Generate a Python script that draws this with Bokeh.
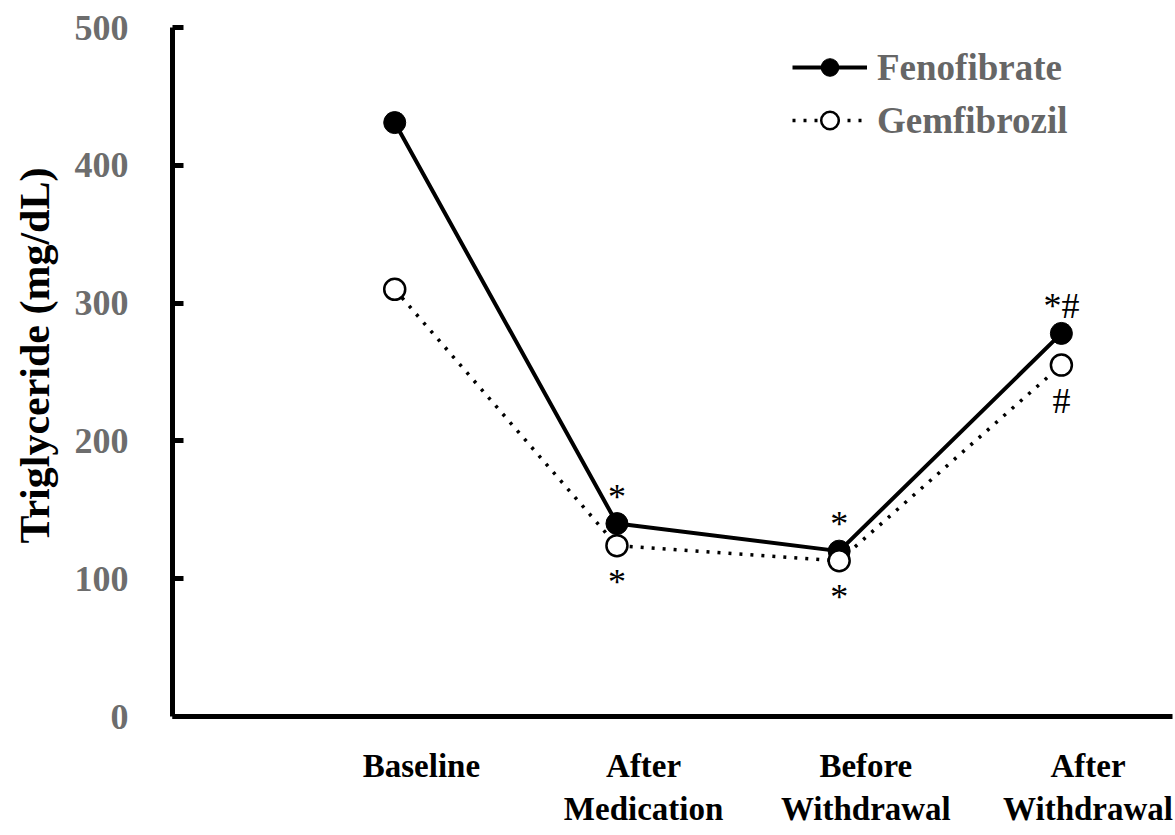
from bokeh.plotting import figure
from bokeh.models import Range1d, FixedTicker, Legend, LegendItem, Title
from bokeh.embed import file_html
from bokeh.resources import INLINE
from bokeh.core.properties import value

# ---- data ----
categories = ["Baseline", "After\nMedication", "Before\nWithdrawal", "After\nWithdrawal"]
x_pos = [1, 2, 3, 4]
fenofibrate = [431, 140, 120, 278]
gemfibrozil = [310, 124, 113, 255]
feno_marks = ["", "*", "*", "*#"]
gem_marks = ["", "*", "*", "#"]
y_ticks = [0, 100, 200, 300, 400, 500]
y_title = "Triglyceride (mg/dL)"
label_shift = 0.12

FONT = "Liberation Serif"

p = figure(width=1175, height=835, x_range=Range1d(0, 4.5), y_range=Range1d(0, 500),
           output_backend="svg", toolbar_location=None,
           min_border_left=172, min_border_right=3, min_border_top=27, min_border_bottom=119)
p.outline_line_color = None
p.xgrid.visible = False
p.ygrid.visible = False
p.background_fill_color = "white"

r1 = p.line(x_pos, fenofibrate, line_width=4, line_color="black")
r2 = p.line(x_pos, gemfibrozil, line_width=3.5, line_color="black", line_dash="3 8")
s1 = p.scatter(x_pos, fenofibrate, size=22, fill_color="black", line_color="black", line_width=1)
s2 = p.scatter(x_pos, gemfibrozil, size=21, fill_color="white", line_color="black", line_width=2.5)

p.text(x_pos, fenofibrate, text=feno_marks, text_font=value(FONT), text_font_size="36px",
       text_align="center", text_baseline="alphabetic", y_offset=-27, text_color="black")
p.text(x_pos, gemfibrozil, text=gem_marks, text_font=value(FONT), text_font_size="36px",
       text_align="center", text_baseline="alphabetic", y_offset=36, text_color="black")

legend = Legend(items=[LegendItem(label="Fenofibrate", renderers=[r1, s1]),
                       LegendItem(label="Gemfibrozil", renderers=[r2, s2])],
                location=(620, 574))
legend.padding = 0
legend.margin = 0
legend.spacing = 9
legend.glyph_width = 75
legend.glyph_height = 44
legend.label_height = 44
legend.label_standoff = 10
legend.border_line_color = None
legend.background_fill_alpha = 0
legend.label_text_font = FONT
legend.label_text_font_style = "bold"
legend.label_text_font_size = "37px"
legend.label_text_color = "#666666"
p.add_layout(legend)

tick_x = [round(x + label_shift, 2) for x in x_pos]
p.xaxis.ticker = FixedTicker(ticks=tick_x)
p.xaxis.major_label_overrides = {t: c for t, c in zip(tick_x, categories)}
p.xaxis.major_tick_line_color = None
p.xaxis.minor_tick_line_color = None
p.xaxis.axis_line_width = 5
p.xaxis.axis_line_color = "black"
p.xaxis.major_label_text_font = FONT
p.xaxis.major_label_text_font_style = "bold"
p.xaxis.major_label_text_font_size = "33px"
p.xaxis.major_label_text_color = "black"
p.xaxis.major_label_standoff = 25

p.yaxis.ticker = FixedTicker(ticks=y_ticks)
p.yaxis.major_tick_in = 11
p.yaxis.major_tick_out = 0
p.yaxis.major_tick_line_width = 5
p.yaxis.minor_tick_line_color = None
p.yaxis.axis_line_width = 5
p.yaxis.axis_line_color = "black"
p.yaxis.major_label_text_font = FONT
p.yaxis.major_label_text_font_style = "bold"
p.yaxis.major_label_text_font_size = "36px"
p.yaxis.major_label_text_color = "#6d6d6d"
p.yaxis.major_label_standoff = 44

title = Title(text=y_title, align="left", offset=173, standoff=23, vertical_align="top",
              text_font=FONT, text_font_style="bold", text_font_size="42px",
              text_color="black")
p.add_layout(title, "left")

open("out.html", "w").write(file_html(p, INLINE))
